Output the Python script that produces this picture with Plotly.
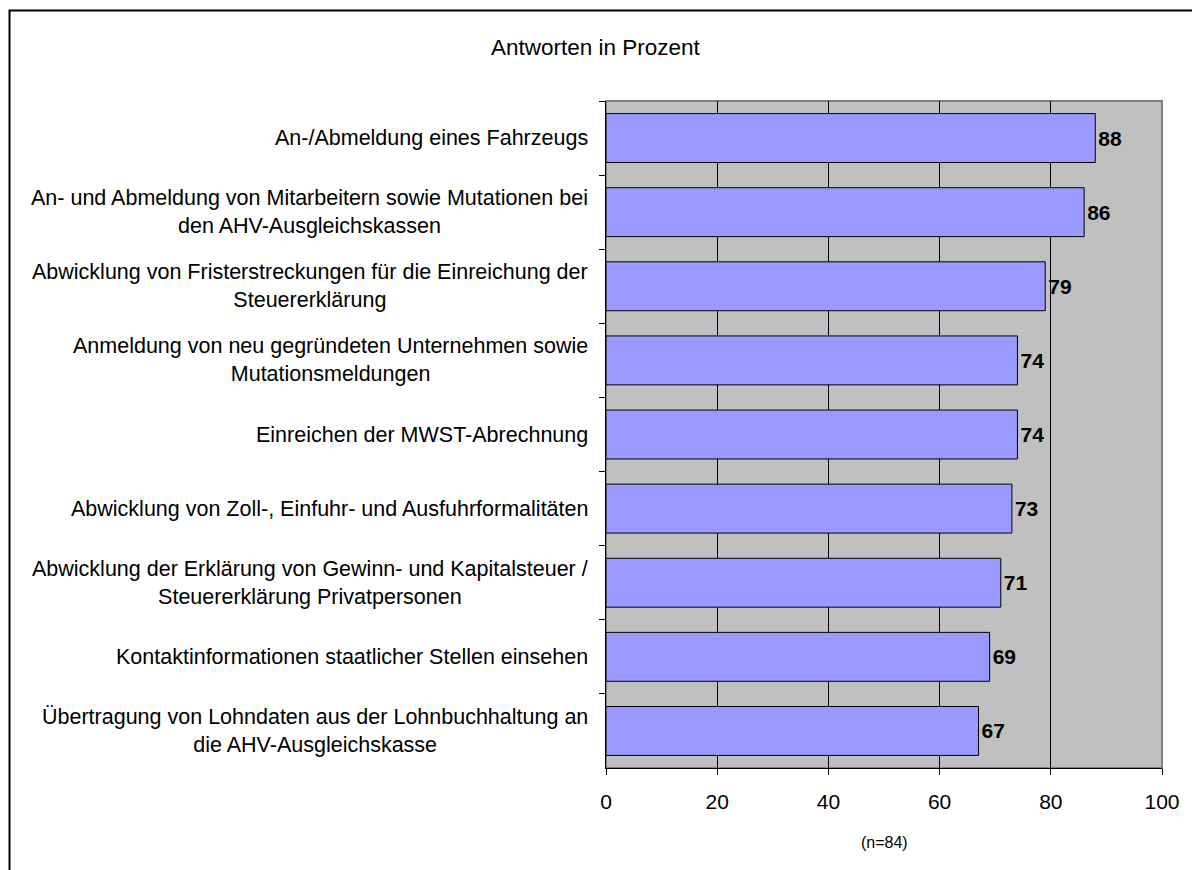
import plotly.graph_objects as go

# Survey items (top to bottom) and share of answers in percent
categories = [
    "An-/Abmeldung eines Fahrzeugs",
    "An- und Abmeldung von Mitarbeitern sowie Mutationen bei<br>den AHV-Ausgleichskassen",
    "Abwicklung von Fristerstreckungen für die Einreichung der<br>Steuererklärung",
    "Anmeldung von neu gegründeten Unternehmen sowie<br>Mutationsmeldungen",
    "Einreichen der MWST-Abrechnung",
    "Abwicklung von Zoll-, Einfuhr- und Ausfuhrformalitäten",
    "Abwicklung der Erklärung von Gewinn- und Kapitalsteuer /<br>Steuererklärung Privatpersonen",
    "Kontaktinformationen staatlicher Stellen einsehen",
    "Übertragung von Lohndaten aus der Lohnbuchhaltung an<br>die AHV-Ausgleichskasse",
]
values = [88, 86, 79, 74, 74, 73, 71, 69, 67]
x_ticks = [0, 20, 40, 60, 80, 100]

FONT = "Liberation Sans, Arial, sans-serif"

W, H = 1192, 870
L, R, T, B = 606, 30, 101, 102
pw, ph = W - L - R, H - T - B


def px_x(px):
    return (px - L) / pw


def px_y(py):
    return (H - B - py) / ph


fig = go.Figure(
    go.Bar(
        x=values,
        y=categories,
        orientation="h",
        marker=dict(color="#9999FF", line=dict(color="black", width=1)),
        text=[str(v) for v in values],
        textposition="outside",
        textfont=dict(family=FONT, size=21, color="black", weight="bold"),
        cliponaxis=False,
        hoverinfo="skip",
    )
)

annotations = [
    dict(
        x=px_x(590), xref="paper", y=c, yref="y",
        text=c, showarrow=False, xanchor="right", yanchor="middle",
        align="center", font=dict(family=FONT, size=21.5, color="black"),
    )
    for c in categories
]
annotations.append(dict(
    x=px_x(596), xref="paper", y=px_y(48), yref="paper",
    text="Antworten in Prozent", showarrow=False,
    xanchor="center", yanchor="middle",
    font=dict(family=FONT, size=22.5, color="black"),
))
annotations.append(dict(
    x=0.5, xref="paper", y=px_y(843), yref="paper",
    text="(n=84)", showarrow=False, xanchor="center", yanchor="middle",
    font=dict(family=FONT, size=16, color="black"),
))

shapes = [
    # plot area border (grey, top/right)
    dict(type="rect", xref="paper", yref="paper", x0=0, x1=1, y0=0, y1=1,
         line=dict(color="#808080", width=2), layer="below"),
    # outer chart frame
    dict(type="rect", xref="paper", yref="paper",
         x0=px_x(9.5), x1=px_x(1200), y0=px_y(880), y1=px_y(10.5),
         line=dict(color="black", width=2), layer="above"),
]

fig.update_layout(
    width=W, height=H,
    margin=dict(l=L, r=R, t=T, b=B),
    paper_bgcolor="white",
    plot_bgcolor="#C0C0C0",
    showlegend=False,
    bargap=0.34,
    font=dict(family=FONT, size=20, color="black"),
    annotations=annotations,
    shapes=shapes,
    xaxis=dict(
        range=[0, 100], tickvals=x_ticks, ticktext=[str(t) for t in x_ticks],
        showgrid=True, gridcolor="black", gridwidth=1,
        showline=True, linecolor="black", linewidth=1,
        ticks="outside", ticklen=6, tickcolor="black",
        ticklabelstandoff=9,
        tickfont=dict(family=FONT, size=21, color="black"),
        zeroline=False, fixedrange=True,
    ),
    yaxis=dict(
        autorange="reversed", showticklabels=False,
        showline=True, linecolor="black", linewidth=1,
        ticks="outside", ticklen=6, tickcolor="black", tickson="boundaries",
        showgrid=False, fixedrange=True,
    ),
)

fig.write_html("out.html")
